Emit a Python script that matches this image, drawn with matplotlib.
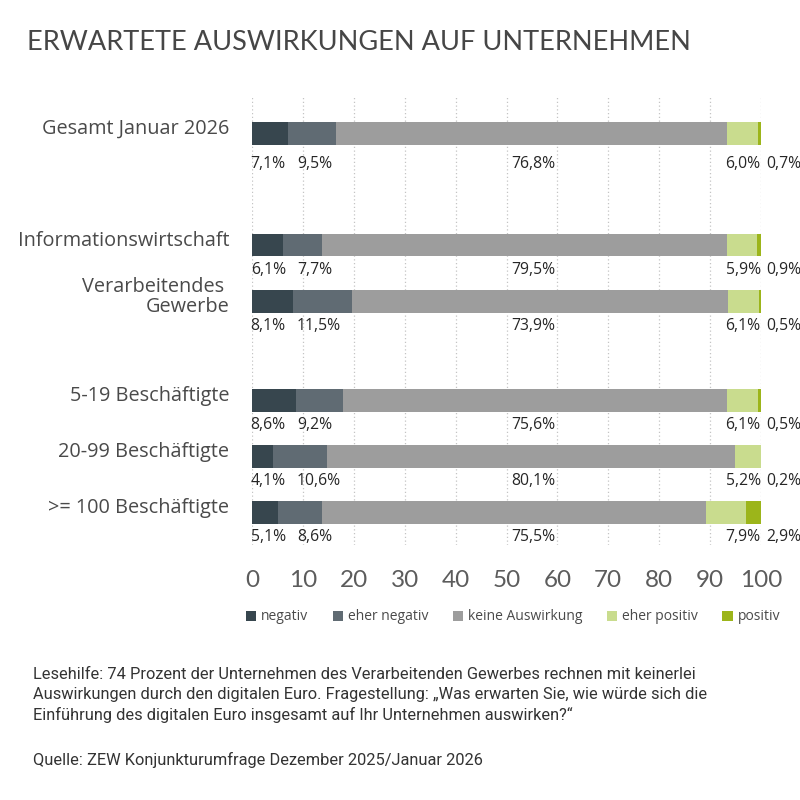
import matplotlib
matplotlib.use("Agg")
import matplotlib.pyplot as plt
from matplotlib.patches import Patch

# Daten
kategorien = ["Gesamt Januar 2026", "Informationswirtschaft", "Verarbeitendes \nGewerbe",
              "5-19 Beschäftigte", "20-99 Beschäftigte", ">= 100 Beschäftigte"]
serien = ["negativ", "eher negativ", "keine Auswirkung", "eher positiv", "positiv"]
negativ = [7.1, 6.1, 8.1, 8.6, 4.1, 5.1]
eher_negativ = [9.5, 7.7, 11.5, 9.2, 10.6, 8.6]
keine = [76.8, 79.5, 73.9, 75.6, 80.1, 75.5]
eher_positiv = [6.0, 5.9, 6.1, 6.1, 5.2, 7.9]
positiv = [0.7, 0.9, 0.5, 0.5, 0.2, 2.9]
farben = ["#37464e", "#606b73", "#9d9d9d", "#c9dc8e", "#9cb51a"]

werte = [negativ, eher_negativ, keine, eher_positiv, positiv]

# y-Positionen: Gruppen mit Abstand
gruppen = [1, 2, 3]
gruppen_abstand = [0, 2.0, 1.77]
ypos = []
y = 0
for g, gap in zip(gruppen, gruppen_abstand):
    y += gap
    for i in range(g):
        ypos.append(y + i * 1.01 if g == 2 else y + i)
    y = ypos[-1]

fig = plt.figure(figsize=(8, 8), dpi=100)
ax = fig.add_axes([252 / 800, 1 - 545 / 800, 509 / 800, 450 / 800])

links = [0] * len(kategorien)
for name, vals, col in zip(serien, werte, farben):
    ax.barh(ypos, vals, left=links, height=0.41, color=col, zorder=3)
    links = [l + v for l, v in zip(links, vals)]

ax.set_xlim(0, 100)
ax.set_ylim(7.36, -0.68)
for s in ax.spines.values():
    s.set_visible(False)
ax.set_xticks(range(0, 101, 10))
ax.tick_params(axis="x", length=0, pad=18, labelsize=17.5, labelcolor="#5c5c5c")
for t in ax.get_xticklabels():
    t.set_fontfamily(["Lato", "DejaVu Sans"])
ax.set_yticks([])
ax.grid(axis="x", color="#c4c4c4", linestyle=(0, (1, 2)), linewidth=0.9, zorder=0)

# Kategorienbeschriftung
for yy, k in zip(ypos, kategorien):
    ax.text(-4.5, yy - 0.08, k, ha="right", va="center", fontsize=14.3, color="#4a4a4a",
            family=["Open Sans", "DejaVu Sans"], linespacing=1.05)

# Wertebeschriftung
def fmt(v):
    return f"{v:.1f}%".replace(".", ",")

for i, yy in enumerate(ypos):
    dy = 0.56 if i == 0 else 0.44
    ty = yy + dy
    kw = dict(va="center", fontsize=11.3, color="#262626", family=["Open Sans", "DejaVu Sans"], clip_on=False)
    ax.text(3.2, ty, fmt(negativ[i]), ha="center", **kw)
    ax.text(max(negativ[i], 8.8), ty, fmt(eher_negativ[i]), ha="left", **kw)
    ax.text(55.2, ty, fmt(keine[i]), ha="center", **kw)
    ax.text(96.5, ty, fmt(eher_positiv[i]), ha="center", **kw)
    ax.text(104.4, ty, fmt(positiv[i]), ha="center", **kw)

# Titel
fig.text(27 / 800, 1 - 42 / 800, "ERWARTETE AUSWIRKUNGEN AUF UNTERNEHMEN", ha="left", va="center",
         fontsize=19.5, color="#464646", family=["Lato", "DejaVu Sans"])

# Legende
handles = [Patch(facecolor=c, edgecolor="none") for c in farben]
leg = fig.legend(handles, serien, loc="center", bbox_to_anchor=(513 / 800, 1 - 617 / 800), ncol=5,
                 frameon=False, handlelength=0.75, handleheight=0.75, handletextpad=0.35,
                 columnspacing=1.75, prop={"family": ["Open Sans", "DejaVu Sans"], "size": 10})
for t in leg.get_texts():
    t.set_color("#4a4a4a")

# Fußnote
fuss = ("Lesehilfe: 74 Prozent der Unternehmen des Verarbeitenden Gewerbes rechnen mit keinerlei\n"
        "Auswirkungen durch den digitalen Euro. Fragestellung: \u201eWas erwarten Sie, wie würde sich die\n"
        "Einführung des digitalen Euro insgesamt auf Ihr Unternehmen auswirken?\u201c")
fig.text(33 / 800, 1 - 695 / 800, fuss, ha="left", va="center", fontsize=11.8, color="#333333",
         family=["Roboto", "DejaVu Sans"], linespacing=1.42)
fig.text(33 / 800, 1 - 760 / 800, "Quelle: ZEW Konjunkturumfrage Dezember 2025/Januar 2026", ha="left",
         va="center", fontsize=11.8, color="#333333", family=["Roboto", "DejaVu Sans"])

fig.savefig("out.png", dpi=100, facecolor="white")
